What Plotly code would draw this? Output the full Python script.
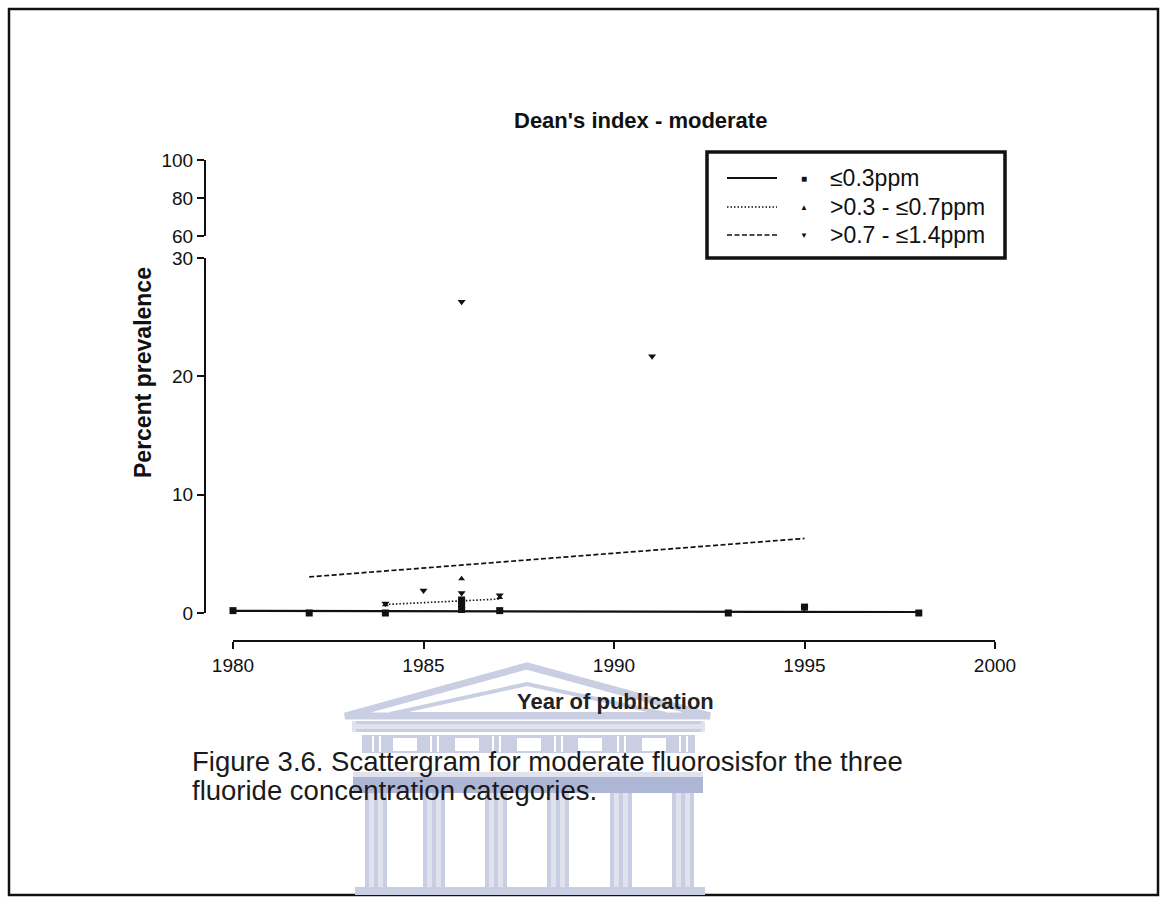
import numpy as np
import plotly.graph_objects as go

# ---- data -------------------------------------------------------------
# <=0.3 ppm (squares)
low_years = [1980, 1982, 1984, 1986, 1986, 1986, 1987, 1993, 1995, 1998]
low_prev = [0.2, 0.0, 0.0, 0.3, 0.7, 1.1, 0.2, 0.0, 0.5, 0.0]

# >0.3 - <=0.7 ppm (up triangles)
mid_years = [1984, 1986, 1986, 1987]
mid_prev = [0.7, 2.9, 1.1, 1.3]

# >0.7 - <=1.4 ppm (down triangles)
high_years = [1982, 1984, 1985, 1986, 1986, 1987, 1991, 1995]
high_prev = [0.1, 0.8, 1.9, 26.3, 1.7, 1.5, 21.7, 0.4]

# fitted regression lines (start / end of each)
low_fit_years = [1980, 1998]
low_fit_prev = [0.18, 0.08]
mid_fit_years = [1984, 1987]
mid_fit_prev = [0.72, 1.18]
high_fit_years = [1982, 1995]
high_fit_prev = [3.05, 6.3]

x_ticks = [1980, 1985, 1990, 1995, 2000]
y_ticks_low = [0, 10, 20, 30]
y_ticks_high = [60, 80, 100]

legend_labels = ["≤0.3ppm", ">0.3 - ≤0.7ppm", ">0.7 - ≤1.4ppm"]

# ---- page geometry (pixels) -------------------------------------------
FW, FH = 1165, 897
L, R, T, B = 205, 995, 160, 641          # plotting paper box
PW, PH = R - L, B - T


def px(x):
    return (x - L) / PW


def py(y):
    return (B - y) / PH


FONT = "Arial, Liberation Sans, Helvetica, sans-serif"
INK = "#111111"
DOT = "1.5px,2px"
DASH = "5px,2.5px"

fig = go.Figure()

# regression lines
fig.add_trace(go.Scatter(x=low_fit_years, y=low_fit_prev, mode="lines",
                         line=dict(color=INK, width=2.2), showlegend=False))
fig.add_trace(go.Scatter(x=mid_fit_years, y=mid_fit_prev, mode="lines",
                         line=dict(color=INK, width=1.6, dash=DOT), showlegend=False))
fig.add_trace(go.Scatter(x=high_fit_years, y=high_fit_prev, mode="lines",
                         line=dict(color=INK, width=1.7, dash=DASH), showlegend=False))

# points
fig.add_trace(go.Scatter(x=high_years, y=high_prev, mode="markers", cliponaxis=False,
                         marker=dict(symbol="triangle-down", size=7, color=INK),
                         showlegend=False))
fig.add_trace(go.Scatter(x=mid_years, y=mid_prev, mode="markers", cliponaxis=False,
                         marker=dict(symbol="triangle-up", size=6, color=INK),
                         showlegend=False))
fig.add_trace(go.Scatter(x=low_years, y=low_prev, mode="markers", cliponaxis=False,
                         marker=dict(symbol="square", size=7, color=INK),
                         showlegend=False))

# empty trace so the upper axis segment is drawn
fig.add_trace(go.Scatter(x=[None], y=[None], yaxis="y2", showlegend=False))

axis_common = dict(showline=True, linecolor=INK, linewidth=2, ticks="outside",
                   ticklen=7, tickwidth=2, tickcolor=INK, showgrid=False,
                   zeroline=False, tickfont=dict(family=FONT, size=19, color=INK))

fig.update_layout(
    width=FW, height=FH,
    margin=dict(l=L, r=FW - R, t=T, b=FH - B, pad=0),
    paper_bgcolor="white", plot_bgcolor="white",
    showlegend=False,
    xaxis=dict(domain=[px(233), 1], range=[1980, 2000], tickvals=x_ticks,
               anchor="free", position=0, **axis_common),
    yaxis=dict(domain=[py(613), py(258)], range=[0, 30], tickvals=y_ticks_low,
               anchor="free", position=0, **axis_common),
    yaxis2=dict(domain=[py(236), 1], range=[60, 100], tickvals=y_ticks_high,
                anchor="free", position=0, **axis_common),
)

shapes = []
annotations = []

# outer frame
shapes.append(dict(type="rect", xref="paper", yref="paper", x0=px(9), x1=px(1158),
                   y0=py(9), y1=py(895), line=dict(color=INK, width=2.5), layer="below"))

# ---- watermark building ------------------------------------------------
WM = "#c9cee2"
WM_DARK = "#aeb6d6"
WM_LIGHT = "#e0e3ee"


def rect(x0, y0, x1, y1, fill, line_w=0):
    shapes.append(dict(type="rect", xref="paper", yref="paper",
                       x0=px(x0), x1=px(x1), y0=py(y1), y1=py(y0),
                       fillcolor=fill, line=dict(width=line_w, color=fill), layer="below"))


def tri_path(pts, color, width):
    d = "M " + " L ".join(f"{px(x)},{py(y)}" for x, y in pts) + " Z"
    shapes.append(dict(type="path", xref="paper", yref="paper", path=d,
                       line=dict(color=color, width=width), layer="below"))


tri_path([(345, 716), (527, 666), (710, 716)], WM, 7)
tri_path([(390, 714), (527, 684), (666, 714)], WM, 4)
rect(352, 721, 705, 732, WM_LIGHT)
rect(356, 721, 701, 724, WM)
rect(356, 729, 701, 732, WM)
rect(362, 735, 695, 753, WM)
for mx in [393, 455, 517, 578, 642]:
    rect(mx, 738, mx + 24, 751, "white")
for cx in [365, 423, 485, 547, 610, 672]:
    rect(cx + 7, 736, cx + 9, 752, "white")
    rect(cx + 14, 736, cx + 16, 752, "white")
rect(353, 772, 703, 777, WM_LIGHT)
rect(353, 777, 703, 793, WM_DARK)
for cx in [365, 423, 485, 547, 610, 672]:
    rect(cx, 793, cx + 22, 887, WM_LIGHT)
    rect(cx, 793, cx + 4, 887, WM)
    rect(cx + 9, 793, cx + 13, 887, WM)
    rect(cx + 18, 793, cx + 22, 887, WM)
rect(355, 887, 705, 895, WM)

# ---- custom legend -------------------------------------------------------
shapes.append(dict(type="rect", xref="paper", yref="paper", x0=px(707), x1=px(1005),
                   y0=py(258), y1=py(152), line=dict(color=INK, width=3.5),
                   fillcolor="white"))
legend_rows = [178, 207, 235]
legend_dash = ["solid", DOT, DASH]
legend_width = [2, 1.5, 1.5]
legend_symbols = ["■", "▲", "▼"]
legend_symsize = [10, 8, 8]
for yy, dash, w, sym, ss, lab in zip(legend_rows, legend_dash, legend_width,
                                     legend_symbols, legend_symsize, legend_labels):
    shapes.append(dict(type="line", xref="paper", yref="paper", x0=px(727), x1=px(777),
                       y0=py(yy), y1=py(yy), line=dict(color=INK, width=w, dash=dash)))
    annotations.append(dict(xref="paper", yref="paper", x=px(804), y=py(yy), text=sym,
                            showarrow=False, font=dict(size=ss, color=INK),
                            xanchor="center", yanchor="middle"))
    annotations.append(dict(xref="paper", yref="paper", x=px(828), y=py(yy), text=lab,
                            showarrow=False, font=dict(family=FONT, size=23, color=INK),
                            xanchor="left", yanchor="middle"))

# ---- titles and caption --------------------------------------------------
annotations.append(dict(xref="paper", yref="paper", x=px(640), y=py(120),
                        text="<b>Dean's index - moderate</b>", showarrow=False,
                        font=dict(family=FONT, size=22, color=INK),
                        xanchor="center", yanchor="middle"))
annotations.append(dict(xref="paper", yref="paper", x=px(143), y=py(373),
                        text="<b>Percent prevalence</b>", textangle=-90, showarrow=False,
                        font=dict(family=FONT, size=23, color=INK),
                        xanchor="center", yanchor="middle"))
annotations.append(dict(xref="paper", yref="paper", x=px(615), y=py(701),
                        text="<b>Year of publication</b>", showarrow=False,
                        font=dict(family=FONT, size=22, color="#222222"),
                        xanchor="center", yanchor="middle"))
caption_lines = ["Figure 3.6. Scattergram for moderate fluorosisfor the three",
                 "fluoride concentration categories."]
for yy, line in zip([761, 790], caption_lines):
    annotations.append(dict(xref="paper", yref="paper", x=px(190), y=py(yy), text=line,
                            showarrow=False, font=dict(family=FONT, size=27.5, color="#1a1a1a"),
                            xanchor="left", yanchor="middle"))

fig.update_layout(shapes=shapes, annotations=annotations)
fig.write_html("out.html")
